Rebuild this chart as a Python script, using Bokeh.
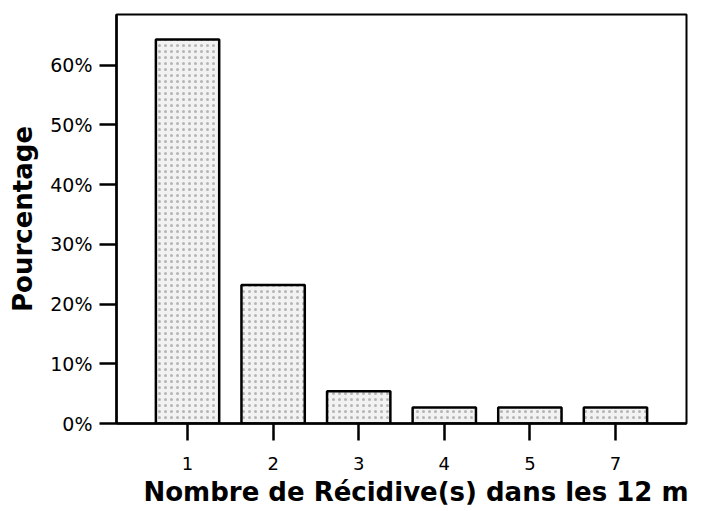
from bokeh.plotting import figure
from bokeh.models import Range1d, FixedTicker, PrintfTickFormatter, Title
from bokeh.embed import file_html
from bokeh.resources import INLINE

categories = ["1", "2", "3", "4", "5", "7"]
percentages = [64.3, 23.2, 5.4, 2.7, 2.7, 2.7]
y_ticks = [0, 10, 20, 30, 40, 50, 60]

positions = list(range(1, len(categories) + 1))

p = figure(width=706, height=511, output_backend="svg", toolbar_location=None,
           x_range=Range1d(0.17, 6.83), y_range=Range1d(0, 68.5),
           min_border_left=116, min_border_right=20, min_border_top=14, min_border_bottom=88)

p.vbar(x=positions, top=percentages, width=0.74, bottom=0,
       fill_color="#f2f2f2", line_color="black", line_width=2.5,
       hatch_pattern=".", hatch_color="#777777", hatch_scale=6, hatch_weight=1, hatch_alpha=0.5)

p.xgrid.visible = False
p.ygrid.visible = False
p.outline_line_color = "black"
p.outline_line_width = 2
p.background_fill_color = "white"
p.border_fill_color = "white"

xa = p.xaxis[0]
xa.ticker = FixedTicker(ticks=positions)
xa.major_label_overrides = {pos: lab for pos, lab in zip(positions, categories)}
xa.minor_tick_line_color = None
xa.major_tick_out = 17
xa.major_tick_in = 0
xa.major_tick_line_width = 2.5
xa.axis_line_width = 2.5
xa.major_label_standoff = 16
xa.major_label_text_font = "DejaVu Sans"
xa.major_label_text_font_size = "18px"
xa.major_label_text_color = "black"

ya = p.yaxis[0]
ya.ticker = FixedTicker(ticks=y_ticks)
ya.formatter = PrintfTickFormatter(format="%d%%")
ya.minor_tick_line_color = None
ya.major_tick_out = 17
ya.major_tick_in = 0
ya.major_tick_line_width = 2.5
ya.axis_line_width = 2.5
ya.major_label_standoff = 7
ya.major_label_text_font = "DejaVu Sans"
ya.major_label_text_font_size = "19px"
ya.major_label_text_color = "black"
ya.axis_label = "Pourcentage"
ya.axis_label_text_font = "DejaVu Sans"
ya.axis_label_text_font_size = "26px"
ya.axis_label_text_font_style = "bold"
ya.axis_label_text_color = "black"
ya.axis_label_standoff = 9

xt = Title(text="Nombre de Récidive(s) dans les 12 m", align="left", offset=27,
           text_font="DejaVu Sans", text_font_size="26px", text_font_style="bold",
           text_color="black", standoff=4)
p.add_layout(xt, "below")

open("out.html", "w").write(file_html(p, INLINE))
